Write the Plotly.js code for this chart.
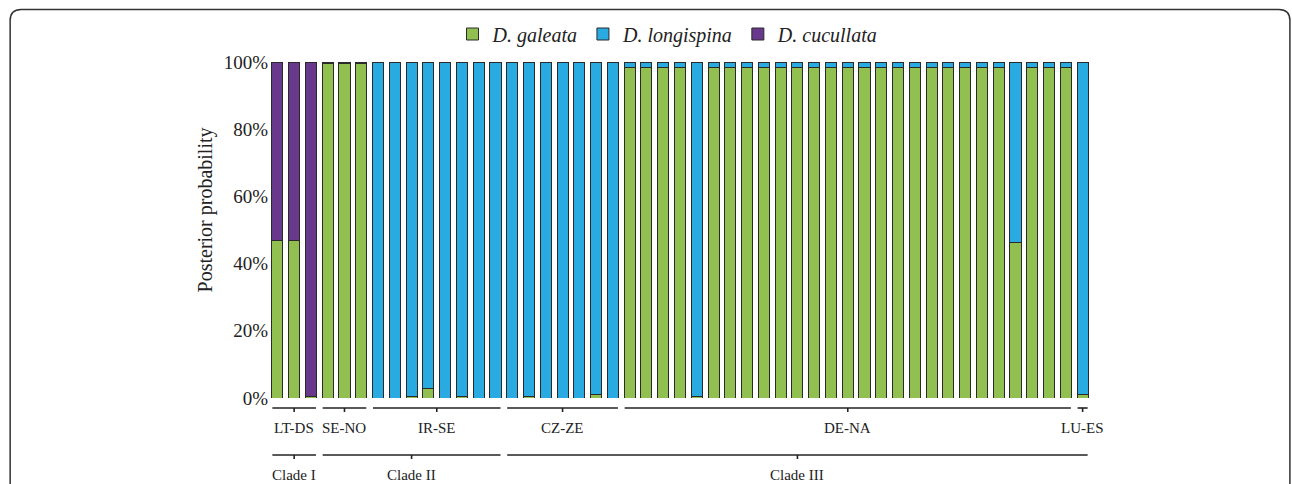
<!DOCTYPE html>
<html>
<head>
<meta charset="utf-8">
<script src="https://cdn.plot.ly/plotly-3.0.1.min.js"></script>
<style>html,body{margin:0;padding:0;background:#fff;}#chart{width:1292px;height:484px;}</style>
</head>
<body>
<div id="chart"></div>
<script>
// ---- data (percent posterior probability per individual, bottom to top) ----
var samples = [];
for (var s = 1; s <= 49; s++) samples.push(s);
var galeata = [47, 47, 0.4, 99.6, 99.6, 99.6,
  0, 0, 0.5, 2.7, 0, 0.5, 0, 0,
  0, 0.5, 0, 0, 0, 0.9, 0,
  98.3, 98.3, 98.3, 98.3, 0.5, 98.3, 98.3, 98.3, 98.3, 98.3, 98.3, 98.3, 98.3, 98.3,
  98.3, 98.3, 98.3, 98.3, 98.3, 98.3, 98.3, 98.3, 98.3, 46.3, 98.3, 98.3, 98.3,
  0.9];
var longispina = [0, 0, 0, 0, 0, 0,
  100, 100, 99.5, 97.3, 100, 99.5, 100, 100,
  100, 99.5, 100, 100, 100, 99.1, 100,
  1.7, 1.7, 1.7, 1.7, 99.5, 1.7, 1.7, 1.7, 1.7, 1.7, 1.7, 1.7, 1.7, 1.7,
  1.7, 1.7, 1.7, 1.7, 1.7, 1.7, 1.7, 1.7, 1.7, 53.7, 1.7, 1.7, 1.7,
  99.1];
var cucullata = [53, 53, 99.6, 0.4, 0.4, 0.4,
  0, 0, 0, 0, 0, 0, 0, 0,
  0, 0, 0, 0, 0, 0, 0,
  0, 0, 0, 0, 0, 0, 0, 0, 0, 0, 0, 0, 0, 0,
  0, 0, 0, 0, 0, 0, 0, 0, 0, 0, 0, 0, 0,
  0];
var seriesNames = ['D. galeata', 'D. longispina', 'D. cucullata'];
var yTickVals = [0, 20, 40, 60, 80, 100];
var yTickText = ['0%', '20%', '40%', '60%', '80%', '100%'];
var yTitle = 'Posterior probability';
// populations (sample numbers first..last)
var popNames = ['LT-DS', 'SE-NO', 'IR-SE', 'CZ-ZE', 'DE-NA', 'LU-ES'];
var popFirst = [1, 4, 7, 15, 22, 49];
var popLast  = [3, 6, 14, 21, 48, 49];
// clades
var cladeNames = ['Clade I', 'Clade II', 'Clade III'];
var cladeFirst = [1, 4, 15];
var cladeLast  = [3, 14, 49];

// ---- styling ----
var W = 1292, H = 484;
var L = 268.6, R = 1091.4, T = 62, B = 398;
function px(x) { return (x - L) / (R - L); }
function py(y) { return (B - y) / (B - T); }
var colors = ['#92C050', '#29ABE2', '#68388C'];
var serif = 'Liberation Serif, Times New Roman, serif';
var ink = '#222';

var vals = [galeata, longispina, cucullata];
var traces = vals.map(function (v, k) {
  return {
    type: 'bar', x: samples, y: v, name: seriesNames[k],
    width: 0.66,
    marker: { color: colors[k], line: { color: '#2a2a2a', width: 1 } },
    hoverinfo: 'x+y+name'
  };
});

var shapes = [], annotations = [];
function bracket(first, last, name, yl, yt, ylab, size) {
  var a = first - 0.3, b = last + 0.3, m = (first + last) / 2;
  shapes.push({ type: 'line', xref: 'x', yref: 'paper', x0: a, x1: b, y0: yl, y1: yl,
    line: { color: ink, width: 1.6 } });
  shapes.push({ type: 'line', xref: 'x', yref: 'paper', x0: m, x1: m, y0: yl, y1: yt,
    line: { color: ink, width: 1.6 } });
  annotations.push({ xref: 'x', yref: 'paper', x: m, y: ylab, text: name, showarrow: false,
    xanchor: 'center', yanchor: 'middle', font: { family: serif, size: size, color: ink } });
}
for (var i = 0; i < popNames.length; i++)
  bracket(popFirst[i], popLast[i], popNames[i], py(408), py(412), py(428), 15);
for (var j = 0; j < cladeNames.length; j++)
  bracket(cladeFirst[j], cladeLast[j], cladeNames[j], py(455), py(459), py(475), 15);

// y-axis title (placed like the original, slightly above centre)
annotations.push({ xref: 'paper', yref: 'paper', x: px(205), y: py(210), text: yTitle,
  textangle: -90, showarrow: false, xanchor: 'center', yanchor: 'middle',
  font: { family: serif, size: 20, color: ink } });

// rounded panel frame
var fl = 9.5, ft = 9.5, fr = 1290.5, fb = 520, rr = 11;
shapes.push({ type: 'path', xref: 'paper', yref: 'paper',
  path: 'M' + px(fl) + ',' + py(fb) + ' L' + px(fl) + ',' + py(ft + rr) +
        ' Q' + px(fl) + ',' + py(ft) + ' ' + px(fl + rr) + ',' + py(ft) +
        ' L' + px(fr - rr) + ',' + py(ft) +
        ' Q' + px(fr) + ',' + py(ft) + ' ' + px(fr) + ',' + py(ft + rr) +
        ' L' + px(fr) + ',' + py(fb),
  line: { color: '#333', width: 1.5 } });

var layout = {
  width: W, height: H,
  margin: { l: L, r: W - R, t: T, b: H - B, pad: 0 },
  paper_bgcolor: '#fff', plot_bgcolor: '#fff',
  barmode: 'stack', bargap: 0.34,
  font: { family: serif, color: ink },
  showlegend: true,
  legend: { orientation: 'h', x: px(668), xanchor: 'center', y: py(34), yanchor: 'middle',
    font: { family: serif, size: 20, color: ink, style: 'italic' },
    traceorder: 'normal', itemwidth: 30, bgcolor: 'rgba(0,0,0,0)' },
  xaxis: { range: [0.5, 49.5], visible: false, fixedrange: true },
  yaxis: { range: [0, 100], tickvals: yTickVals, ticktext: yTickText, showgrid: false,
    zeroline: false, showline: false, ticks: '', ticklabelstandoff: 0,
    tickfont: { family: serif, size: 19, color: ink }, fixedrange: true },
  shapes: shapes, annotations: annotations
};
Plotly.newPlot('chart', traces, layout, { displayModeBar: false, staticPlot: true });
</script>
</body>
</html>
